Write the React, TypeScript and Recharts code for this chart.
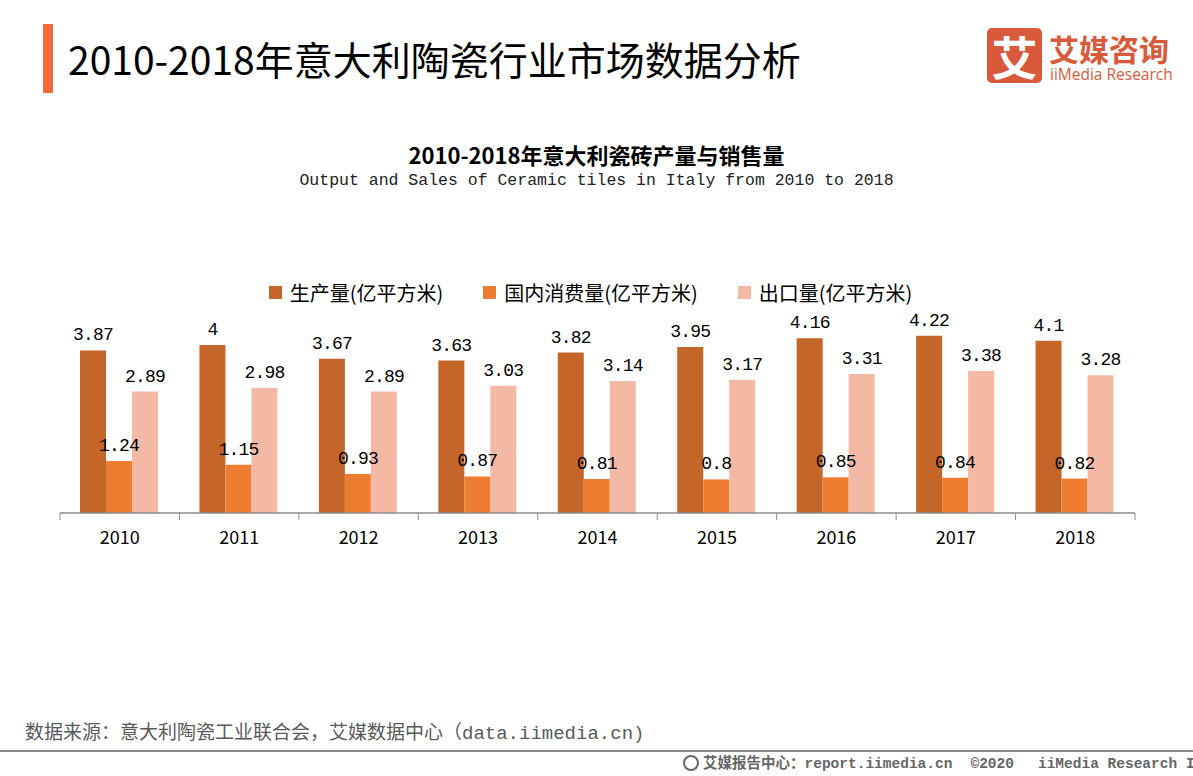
import React from 'react';
import { BarChart, Bar, XAxis, YAxis, Legend, LabelList } from 'recharts';

// 数据
const years = ['2010', '2011', '2012', '2013', '2014', '2015', '2016', '2017', '2018'];
const production = [3.87, 4, 3.67, 3.63, 3.82, 3.95, 4.16, 4.22, 4.1];
const consumption = [1.24, 1.15, 0.93, 0.87, 0.81, 0.8, 0.85, 0.84, 0.82];
const exportVolume = [2.89, 2.98, 2.89, 3.03, 3.14, 3.17, 3.31, 3.38, 3.28];
const seriesNames = ['生产量(亿平方米)', '国内消费量(亿平方米)', '出口量(亿平方米)'];

const chartData = years.map((year, i) => ({
    year,
    production: production[i],
    consumption: consumption[i],
    exportVolume: exportVolume[i]
}));

const W = 1193;
const H = 776;
const PLOT_LEFT = 60;
const PLOT_RIGHT = 1135;
const CJK = '"Noto Sans CJK SC", "Noto Sans", sans-serif';
const MONO = '"Liberation Mono", "DejaVu Sans Mono", "Noto Sans CJK SC", monospace';

// 分类边界刻度 + 年份标签
const BoundaryTick = (props: any) => {
    const { x, y, payload, index } = props;
    const half = payload && payload.offset ? payload.offset : (PLOT_RIGHT - PLOT_LEFT) / years.length / 2;
    return (
        <g>
            <line x1={x - half} y1={y} x2={x - half} y2={y + 7} stroke="#8c8c8c" strokeWidth={1} />
            {index === years.length - 1 && (
                <line x1={x + half} y1={y} x2={x + half} y2={y + 7} stroke="#8c8c8c" strokeWidth={1} />
            )}
            <text x={x} y={y + 31} textAnchor="middle" fill="#000" fontSize={18} fontFamily={CJK}>
                {payload.value}
            </text>
        </g>
    );
};

const LegendContent = (props: any) => {
    const items = [...(props.payload || [])].sort(
        (a: any, b: any) => seriesNames.indexOf(a.value) - seriesNames.indexOf(b.value)
    );
    return (
        <div style={{ display: 'flex', justifyContent: 'center', gap: 40, fontFamily: CJK, fontSize: 20, color: '#000' }}>
            {items.map((item: any) => (
                <div key={item.value} style={{ display: 'flex', alignItems: 'center' }}>
                    <span style={{ display: 'inline-block', width: 13, height: 13, background: item.color, marginRight: 8 }} />
                    <span>{item.value}</span>
                </div>
            ))}
        </div>
    );
};

const labelStyle = { fill: '#000', fontSize: 18, fontFamily: MONO, letterSpacing: -0.8 };

export default function App() {
    return (
        <div style={{ position: 'absolute', left: 0, top: 0, width: W, height: H, background: '#fff', overflow: 'hidden', fontFamily: CJK }}>
            {/* 页面标题 */}
            <div style={{ position: 'absolute', left: 43, top: 24, width: 10, height: 69, background: '#f4693a' }} />
            <div style={{ position: 'absolute', left: 68, top: 33, fontSize: 39, lineHeight: '50px', color: '#000', whiteSpace: 'nowrap' }}>
                2010-2018年意大利陶瓷行业市场数据分析
            </div>

            {/* logo */}
            <div style={{ position: 'absolute', left: 987, top: 28, width: 55, height: 55, borderRadius: 5, background: '#d95a3b', color: '#fff', fontSize: 46, fontWeight: 700, lineHeight: '55px', textAlign: 'center' }}>
                艾
            </div>
            <div style={{ position: 'absolute', left: 1049, top: 32, fontSize: 30, fontWeight: 700, lineHeight: '32px', color: '#d95a3b', whiteSpace: 'nowrap' }}>
                艾媒咨询
            </div>
            <div style={{ position: 'absolute', left: 1050, top: 66, fontSize: 15.5, lineHeight: '16px', color: '#d95a3b', whiteSpace: 'nowrap', fontFamily: '"Open Sans", sans-serif' }}>
                iiMedia Research
            </div>

            {/* 图表标题 */}
            <div style={{ position: 'absolute', left: 0, width: W, top: 139, textAlign: 'center', fontSize: 22, fontWeight: 700, lineHeight: '30px', color: '#000' }}>
                2010-2018年意大利瓷砖产量与销售量
            </div>
            <div style={{ position: 'absolute', left: 0, width: W, top: 170, textAlign: 'center', fontSize: 16.5, lineHeight: '22px', color: '#222', fontFamily: MONO }}>
                Output and Sales of Ceramic tiles in Italy from 2010 to 2018
            </div>

            <div style={{ position: 'absolute', left: 0, top: 0 }}>
                <BarChart
                    width={W}
                    height={H}
                    data={chartData}
                    margin={{ top: 303, right: W - PLOT_RIGHT, bottom: 223, left: PLOT_LEFT }}
                    barCategoryGap={20}
                    barGap={0}
                >
                    <XAxis
                        dataKey="year"
                        height={40}
                        axisLine={{ stroke: '#8c8c8c', strokeWidth: 1.5 }}
                        tickLine={false}
                        tickSize={0}
                        tickMargin={0}
                        interval={0}
                        tick={<BoundaryTick />}
                    />
                    <YAxis hide domain={[0, 5]} />
                    <Legend
                        layout="horizontal"
                        verticalAlign="middle"
                        align="center"
                        content={<LegendContent />}
                        wrapperStyle={{ top: 278, left: -6, width: W }}
                    />
                    <Bar dataKey="production" name={seriesNames[0]} fill="#c4652a" isAnimationActive={false}>
                        <LabelList dataKey="production" position="top" offset={10} style={labelStyle} />
                    </Bar>
                    <Bar dataKey="consumption" name={seriesNames[1]} fill="#ee7d31" isAnimationActive={false}>
                        <LabelList dataKey="consumption" position="top" offset={10} style={labelStyle} />
                    </Bar>
                    <Bar dataKey="exportVolume" name={seriesNames[2]} fill="#f4b9a5" isAnimationActive={false}>
                        <LabelList dataKey="exportVolume" position="top" offset={10} style={labelStyle} />
                    </Bar>
                </BarChart>
            </div>

            {/* 数据来源 */}
            <div style={{ position: 'absolute', left: 25, top: 721, fontSize: 19, lineHeight: '26px', color: '#595959', whiteSpace: 'nowrap', fontFamily: MONO }}>
                数据来源：意大利陶瓷工业联合会，艾媒数据中心（data.iimedia.cn)
            </div>
            <div style={{ position: 'absolute', left: 0, top: 750, width: W, height: 2, background: '#8a8a8a' }} />
            <div style={{ position: 'absolute', left: 683, top: 754, fontSize: 14.5, lineHeight: '20px', color: '#666', fontWeight: 700, whiteSpace: 'nowrap', fontFamily: MONO }}>
                <span style={{ display: 'inline-block', width: 16, height: 16, borderRadius: 8, border: '2px solid #666', boxSizing: 'border-box', verticalAlign: -3, marginRight: 4 }} />
                艾媒报告中心：report.iimedia.cn
                <span style={{ marginLeft: 18 }}>©2020</span>
                <span style={{ marginLeft: 24 }}>iiMedia Research Inc</span>
            </div>
        </div>
    );
}
